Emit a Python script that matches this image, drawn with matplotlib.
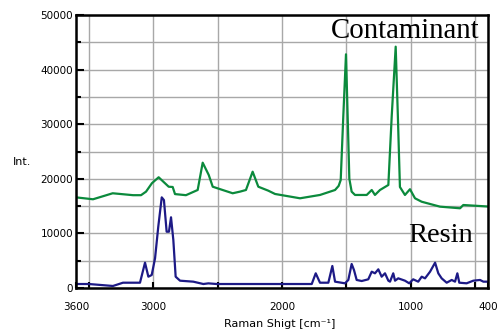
import matplotlib
matplotlib.use("Agg")
import matplotlib.pyplot as plt
from matplotlib.ticker import FixedLocator, NullFormatter

# Contaminant spectrum (Raman shift cm^-1, intensity)
contaminant_wn = [3600, 3468, 3315, 3157, 3095, 3056, 3010, 2958, 2914, 2880, 2849, 2831,
                  2746, 2655, 2616, 2569, 2538, 2461, 2383, 2326, 2280, 2228, 2184, 2107,
                  2054, 1860, 1705, 1588, 1560, 1544, 1524, 1503, 1490, 1477, 1459, 1433,
                  1394, 1342, 1303, 1278, 1239, 1174, 1148, 1117, 1100, 1084, 1045, 1006,
                  967, 915, 773, 617, 592, 384]
contaminant_int = [16600, 16250, 17350, 17000, 17000, 17650, 19200, 20280, 19300, 18550, 18500, 17200,
                   17000, 17950, 22950, 20700, 18550, 17950, 17350, 17650, 17950, 21300, 18550, 17830,
                   17220, 16430, 17040, 17950, 18700, 19780, 31400, 42800, 31400, 20000, 17650, 17040,
                   17040, 17040, 17950, 17040, 17950, 18870, 31400, 44200, 31400, 18500, 17040, 18090,
                   16430, 15800, 14900, 14600, 15200, 14900]

# Resin spectrum
resin_wn = [3600, 3500, 3313, 3235, 3103, 3064, 3038, 3012, 2986, 2961, 2934, 2917, 2896,
            2878, 2862, 2844, 2826, 2792, 2689, 2611, 2572, 2507, 1769, 1738, 1705,
            1640, 1609, 1588, 1511, 1485, 1459, 1441, 1420, 1381, 1330, 1303, 1278,
            1252, 1226, 1200, 1174, 1161, 1136, 1122, 1097, 1045, 1012, 981, 942, 915,
            889, 850, 811, 786, 760, 721, 682, 656, 638, 623, 566, 514, 462, 436, 400]
resin_int = [730, 730, 370, 970, 970, 4640, 2070, 2380, 5440, 11230, 16600, 16100, 10310,
             10310, 12950, 8790, 2070, 1340, 1160, 730, 850, 730, 730, 2690, 970,
             970, 4030, 1160, 860, 1470, 4400, 3300, 1470, 1280, 1590, 2990, 2690,
             3420, 2070, 2690, 1340, 1160, 2690, 1340, 1770, 1340, 860, 1590, 1160, 2070,
             1770, 2990, 4640, 2690, 1770, 970, 1470, 1160, 2690, 970, 860, 1340, 1470, 1160, 1160]

x_major = [3600, 3000, 2000, 1000, 400]
x_minor = [3500, 2500, 1500, 500]
y_major = [0, 10000, 20000, 30000, 40000, 50000]
y_minor = [5000, 15000, 25000, 35000, 45000]

plt.rcParams['font.family'] = ['DejaVu Sans']
fig = plt.figure(figsize=(4.97, 3.31), dpi=100)
ax = fig.add_axes([76/497, 43/331, 412/497, 273/331])

ax.plot(contaminant_wn, contaminant_int, color='#0b8a3c', lw=1.6, zorder=3)
ax.plot(resin_wn, resin_int, color='#1d1a86', lw=1.6, zorder=3)

ax.set_xlim(3600, 400)
ax.set_ylim(0, 50000)
ax.xaxis.set_major_locator(FixedLocator(x_major))
ax.xaxis.set_minor_locator(FixedLocator(x_minor))
ax.yaxis.set_major_locator(FixedLocator(y_major))
ax.yaxis.set_minor_locator(FixedLocator(y_minor))
ax.set_xticklabels([str(v) for v in x_major])
ax.yaxis.set_minor_formatter(NullFormatter())
ax.xaxis.set_minor_formatter(NullFormatter())

ax.grid(True, which='both', color='#a8a8a8', lw=1.0, zorder=0)
ax.tick_params(axis='both', which='both', direction='in', width=1.5, labelsize=7.5, colors='black')
ax.tick_params(axis='x', which='both', length=4, pad=10)
ax.tick_params(axis='y', which='major', length=6, pad=2)
ax.tick_params(axis='y', which='minor', length=3.5)
for s in ax.spines.values():
    s.set_linewidth(1.8)
    s.set_color('black')
    s.set_zorder(4)

fig.text(280/497, 1 - 327/331, 'Raman Shigt [cm\u207b\u00b9]', ha='center', va='baseline', fontsize=8)
fig.text(13/497, 1 - 165/331, 'Int.', ha='left', va='baseline', fontsize=8)
fig.text(480/497, 1 - 38/331, 'Contaminant', ha='right', va='baseline',
         fontsize=20.8, family='Liberation Serif')
fig.text(473/497, 1 - 242/331, 'Resin', ha='right', va='baseline',
         fontsize=20.5, family='Liberation Serif')

fig.savefig('out.png', dpi=100)
